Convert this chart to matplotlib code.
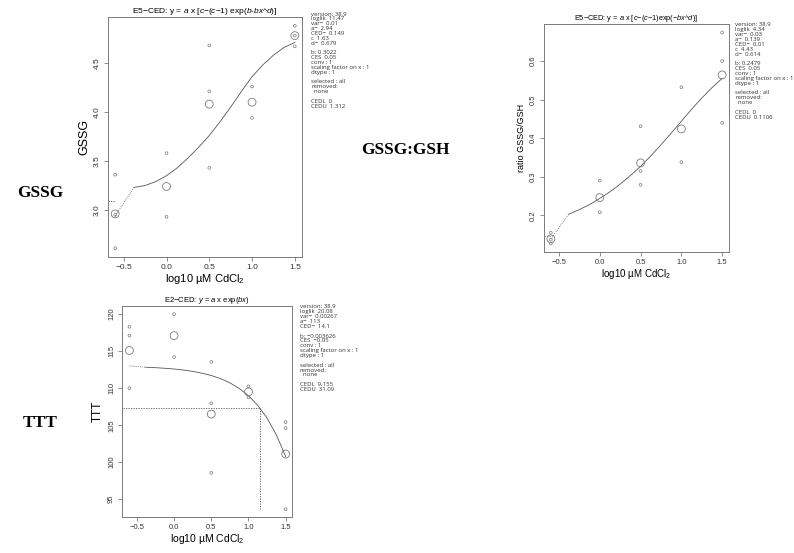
import matplotlib
matplotlib.use("Agg")
import matplotlib.pyplot as plt

plt.rcParams["font.family"] = ["Liberation Sans", "DejaVu Sans"]
plt.rcParams["mathtext.fontset"] = "custom"
plt.rcParams["mathtext.rm"] = "Liberation Sans"
plt.rcParams["mathtext.it"] = "Liberation Sans:italic"

# log10 dose positions (control plotted at -0.6)
doses = [-0.6, 0.0, 0.5, 1.0, 1.5]

# GSSG
gssg_x = [-0.6, -0.6, -0.6, 0.0, 0.0, 0.5, 0.5, 0.5, 1.0, 1.0, 1.5, 1.5, 1.5]
gssg_y = [3.36, 2.95, 2.61, 3.58, 2.93, 4.68, 4.21, 3.43, 4.26, 3.94, 4.88, 4.78, 4.67]
gssg_mean = [2.96, 3.24, 4.08, 4.10, 4.78]
curve_x = [-0.38, -0.25, -0.125, 0.0, 0.125, 0.25, 0.375, 0.5, 0.625, 0.75,
           0.875, 1.0, 1.125, 1.25, 1.375, 1.5]
gssg_curve = [3.23, 3.25, 3.29, 3.35, 3.43, 3.53, 3.64, 3.76, 3.90, 4.05,
              4.21, 4.36, 4.48, 4.58, 4.66, 4.71]
gssg_a = 2.94
gssg_ces_level = 3.09

# GSSG:GSH
ratio_x = [-0.6, -0.6, -0.6, 0.0, 0.0, 0.5, 0.5, 0.5, 1.0, 1.0, 1.5, 1.5, 1.5]
ratio_y = [0.155, 0.137, 0.127, 0.290, 0.208, 0.431, 0.315, 0.279, 0.532, 0.338,
           0.674, 0.600, 0.440]
ratio_mean = [0.139, 0.246, 0.336, 0.424, 0.564]
ratio_curve = [0.203, 0.215, 0.228, 0.244, 0.261, 0.281, 0.303, 0.327, 0.354, 0.383,
               0.413, 0.444, 0.475, 0.504, 0.531, 0.555]
ratio_a = 0.139
ratio_ces_level = 0.146

# TTT
ttt_x = [-0.6, -0.6, -0.6, 0.0, 0.0, 0.5, 0.5, 0.5, 1.0, 1.0, 1.5, 1.5, 1.5]
ttt_y = [118.3, 117.1, 110.0, 120.0, 114.2, 113.55, 107.95, 98.56, 110.25, 108.76,
         105.42, 104.61, 93.65]
ttt_mean = [115.1, 117.1, 106.5, 109.5, 101.1]
ttt_curve = [112.83, 112.77, 112.69, 112.59, 112.45, 112.27, 112.03, 111.71, 111.29,
             110.72, 109.97, 108.98, 107.68, 105.95, 103.69, 100.76]
ttt_a = 113.0
ttt_ces_level = 107.35
ttt_ced = 1.149

info_gssg = ["version: 38.9", "loglik  11.47", "var\u2212  0.01", "a\u2212  2.94",
             "CED\u2212  0.149", "c  1.63", "d\u2212  0.679", "", "b: 0.3022",
             "CES  0.05", "conv : 1", "scaling factor on x : 1", "dtype : 1", "",
             "selected : all", "removed:", "  none", "", "CEDL  0", "CEDU  1.312"]
info_ratio = ["version: 38.9", "loglik  4.34", "var\u2212  0.03", "a\u2212  0.139",
              "CED\u2212  0.01", "c  4.43", "d\u2212  0.614", "", "b: 0.2479",
              "CES  0.05", "conv : 1", "scaling factor on x : 1", "dtype : 1", "",
              "selected : all", "removed:", "  none", "", "CEDL  0", "CEDU  0.1106"]
info_ttt = ["version: 38.9", "loglik  20.08", "var\u2212  0.00267", "a\u2212  113",
            "CED\u2212  14.1", "", "b: \u22120.003626", "CES  \u22120.05", "conv : 1",
            "scaling factor on x : 1", "dtype : 1", "", "selected : all", "removed:",
            "  none", "", "CEDL  9.155", "CEDU  31.09"]

W, H = 794, 553
fig = plt.figure(figsize=(W / 100, H / 100), dpi=100)
grey = "#7a7a7a"
line_c = "#555555"


def box(l, t, r, b):
    return [l / W, 1 - b / H, (r - l) / W, (b - t) / H]


def style(ax, xlim, ylim, yticks, tsize):
    ax.set_xlim(xlim)
    ax.set_ylim(ylim)
    ax.set_xticks([-0.5, 0.0, 0.5, 1.0, 1.5])
    ax.set_xticklabels(["\u22120.5", "0.0", "0.5", "1.0", "1.5"])
    ax.set_yticks(yticks)
    for s in ax.spines.values():
        s.set_color(grey)
        s.set_linewidth(0.7)
    ax.tick_params(colors=grey, labelcolor="#333333", labelsize=tsize, length=3,
                   width=0.6, pad=2)
    ax.tick_params(axis="y", labelrotation=90)
    for lab in ax.get_yticklabels():
        lab.set_va("center")


def draw(ax, px, py, means, curve, a, ces, xlim):
    ax.scatter(px, py, s=4, facecolors="none", edgecolors=grey, linewidths=0.5, zorder=3)
    ax.scatter(doses, means, s=32, facecolors="none", edgecolors=grey, linewidths=0.6,
               zorder=3)
    ax.plot(curve_x, curve, color=line_c, lw=0.6)
    ax.plot([doses[0], curve_x[0]], [a, curve[0]], color=line_c, lw=0.6, ls=(0, (1, 1.5)))
    ax.plot([xlim[0], doses[0]], [ces, ces], color=line_c, lw=0.6, ls=(0, (1.5, 1.5)))


xl = (-0.684, 1.584)

# GSSG panel
ax1 = fig.add_axes(box(108, 17, 302, 257))
draw(ax1, gssg_x, gssg_y, gssg_mean, gssg_curve, gssg_a, gssg_ces_level, xl)
style(ax1, xl, (2.52, 4.97), [3.0, 3.5, 4.0, 4.5], 6)
ax1.set_title("E5\u2212CED: y = $a$ x [$c$\u2212($c$\u22121) exp($b$-$bx$^$d$)]",
              fontsize=6, pad=3)
ax1.set_xlabel("log10 \u00b5M CdCl$_2$", fontsize=8, labelpad=1)
ax1.set_ylabel("GSSG", fontsize=9, labelpad=3)

# GSSG:GSH panel
ax2 = fig.add_axes(box(544, 24, 729, 252))
draw(ax2, ratio_x, ratio_y, ratio_mean, ratio_curve, ratio_a, ratio_ces_level, xl)
style(ax2, xl, (0.105, 0.696), [0.2, 0.3, 0.4, 0.5, 0.6], 5.5)
ax2.set_title("E5\u2212CED: y = $a$ x [$c$\u2212($c$\u22121)exp(\u2212$bx$^$d$)]",
              fontsize=5.3, pad=3)
ax2.set_xlabel("log10 \u00b5M CdCl$_2$", fontsize=7, labelpad=1)
ax2.set_ylabel("ratio GSSG/GSH", fontsize=6.5, labelpad=3)

# TTT panel
ax3 = fig.add_axes(box(122, 306, 292, 517))
ax3.scatter(ttt_x, ttt_y, s=4, facecolors="none", edgecolors=grey, linewidths=0.5, zorder=3)
ax3.scatter(doses, ttt_mean, s=32, facecolors="none", edgecolors=grey, linewidths=0.6,
            zorder=3)
ax3.plot(curve_x, ttt_curve, color=line_c, lw=0.6)
ax3.plot([doses[0], curve_x[0]], [ttt_a, ttt_curve[0]], color=line_c, lw=0.6,
         ls=(0, (1, 1.5)))
ax3.plot([xl[0], ttt_ced], [ttt_ces_level, ttt_ces_level], color=line_c, lw=0.6,
         ls=(0, (1.5, 1.5)))
ax3.plot([ttt_ced, ttt_ced], [ttt_ces_level, min(ttt_y)], color=line_c, lw=0.6,
         ls=(0, (1.5, 1.5)))
style(ax3, (-0.70, 1.585), (92.6, 121.1), [95, 100, 105, 110, 115, 120], 5.5)
ax3.set_title("E2\u2212CED: $y$ = $a$ x exp($bx$)", fontsize=5.5, pad=3)
ax3.set_xlabel("log10 \u00b5M CdCl$_2$", fontsize=7.5, labelpad=1)
ax3.set_ylabel("TTT", fontsize=8.5, labelpad=3)


def info(lines, x, y):
    for i, t in enumerate(lines):
        fig.text(x / W, 1 - (y + i * 4.85) / H, t, fontsize=4.3, family="Open Sans",
                 va="center", ha="left", color="#333333")


info(info_gssg, 311, 14)
info(info_ratio, 735, 25)
info(info_ttt, 300, 307)

# row labels
for t, x, y in [("GSSG", 40, 193), ("GSSG:GSH", 405, 150), ("TTT", 40, 423)]:
    fig.text(x / W, 1 - y / H, t, family="Liberation Serif", fontweight="bold",
             fontsize=12.5, ha="center", va="center")

fig.savefig("out.png", dpi=100)
